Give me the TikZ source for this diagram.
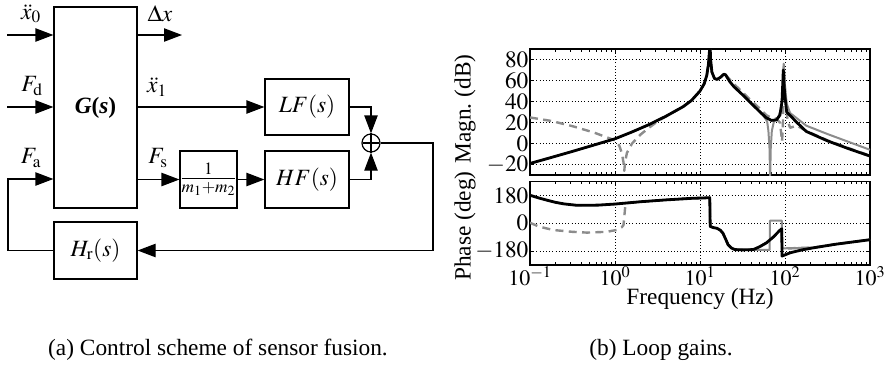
\documentclass[tikz,border=0pt]{standalone}
\usepackage{mathptmx}
\usepackage{fontspec}
\setmainfont{Liberation Serif}
\usepackage{pgfplots}
\usetikzlibrary{arrows.meta,calc,positioning}
\pgfplotsset{compat=1.18}
\definecolor{curvegray}{gray}{0.55}
\newcommand{\bigfont}{\fontsize{17.5}{20}\selectfont}
\newcommand{\tickfont}{\fontsize{16.5}{19}\selectfont}
\pgfplotsset{
  bodeax/.style={scale only axis,width=255pt,xmin=0.1,xmax=1000,
    grid=major,major grid style={dotted,black,line width=0.5pt},
    axis line style={line width=0.9pt},tick style={black,line width=0.6pt},
    major tick length=3pt,minor tick length=2pt,
    yticklabel style={font=\bigfont,inner sep=1pt},
    xticklabel style={font=\tickfont,inner sep=1pt}},
  blackline/.style={black,line width=2.1pt,line join=round},
  grayline/.style={curvegray,line width=1.5pt,line join=round},
  graydash/.style={curvegray,line width=1.8pt,dash pattern=on 6pt off 4pt,line join=round}
}

\begin{document}
\begin{tikzpicture}[x=0.75pt,y=-0.75pt,
  blk/.style={draw,line width=0.9pt,inner sep=0pt,font=\bigfont},
  lbl/.style={font=\bigfont,inner sep=0pt},
  sig/.style={line width=0.9pt,-{Triangle[length=13.5pt,width=10pt]}}]
\useasboundingbox (0,0) rectangle (885,365);
\node[blk,minimum width=62.25pt,minimum height=150.75pt] (G) at (95.5,107.5) {\textbf{\textit{G}(\textit{s})}};
\node[blk,minimum width=63pt,minimum height=42pt] (LF) at (307,107) {$LF(s)$};
\node[blk,minimum width=63pt,minimum height=42.75pt] (HF) at (307,179.5) {$HF(s)$};
\node[blk,minimum width=39.75pt,minimum height=42.75pt] (gain) at (208.5,179.5) {$\frac{1}{m_1+m_2}$};
\node[blk,minimum width=62.25pt,minimum height=42.75pt] (Hr) at (95.5,250.5) {$H_{\mathrm{r}}(s)$};
\node[draw,circle,line width=0.9pt,minimum size=13.5pt,inner sep=0pt] (sum) at (371,143) {};
\draw[line width=0.9pt,shorten <=1.5pt,shorten >=1.5pt] (sum.north) -- (sum.south) (sum.west) -- (sum.east);
\coordinate (u0) at (7,35);
\coordinate (ud) at (7,107);
\coordinate (fb) at (8,179);
\coordinate (y0) at (182,35);
\coordinate (rc) at (433,250.5);
\draw[sig] (u0) -- (G.west|-u0);
\draw[sig] (ud) -- (G.west|-ud);
\draw[sig] (G.east|-y0) -- (y0);
\draw[sig] (G.east|-LF) -- (LF.west);
\draw[sig] (G.east|-gain) -- (gain.west);
\draw[sig] (gain.east) -- (HF.west);
\draw[sig] (LF.east) -| (sum.north);
\draw[sig] (HF.east) -| (sum.south);
\draw[sig] (sum.east) -| (rc) -- (Hr.east);
\draw[sig] (Hr.west) -| (fb) -- (G.west|-fb);
\node[lbl] (lx0) at (31,14) {$\ddot{x}_0$};
\node[lbl] (lfd) at (32,86) {$F_{\mathrm{d}}$};
\node[lbl] (lfa) at (31,158) {$F_{\mathrm{a}}$};
\node[lbl] (ldx) at (160,14) {$\Delta x$};
\node[lbl] (lx1) at (157,87) {$\ddot{x}_1$};
\node[lbl] (lfs) at (158,158) {$F_{\mathrm{s}}$};

\coordinate (magSW) at (530,175);
\coordinate (phSW) at (530,265);
\begin{axis}[xmode=log,at={(magSW)},anchor=south west,bodeax,height=94.5pt,
  ymin=-30,ymax=90,ytick={-20,0,...,80},xticklabels=\empty]
\addplot[grayline] table[x expr=10^(\thisrowno{0}),y index=1,row sep=\\]{
-1 -19\\ -0.75 -13.3\\ -0.5 -7.5\\ -0.25 -1.5\\ 0 4.5\\ 0.2 11\\ 0.4 18\\ 0.6 26\\ 0.8 35\\ 0.9 41\\
1.0 50\\ 1.05 57\\ 1.08 65\\ 1.1 76\\ 1.118 95\\ 1.125 80\\ 1.14 68\\ 1.17 62\\ 1.2 61\\ 1.24 63\\
1.28 66\\ 1.3 65.5\\ 1.35 59\\ 1.4 54\\ 1.5 46.5\\ 1.6 38.5\\ 1.7 30.5\\ 1.75 26\\ 1.79 21\\ 1.805 12\\
1.818 -5\\ 1.825 -35\\ 1.832 -5\\ 1.845 12\\ 1.87 21\\ 1.92 25\\ 1.955 33\\ 1.972 45\\ 1.985 76\\ 2.0 55\\
2.02 38\\ 2.06 29\\ 2.14 24\\ 2.25 17\\ 2.5 9\\ 2.75 1.5\\ 3 -6\\
};
\addplot[graydash] table[x expr=10^(\thisrowno{0}),y index=1,row sep=\\]{
-1 24.8\\ -0.75 21.5\\ -0.5 16.5\\ -0.25 10.5\\ 0 3\\ 0.05 -2\\ 0.08 -9\\ 0.1 -18\\ 0.109 -26\\ 0.118 -18\\
0.14 -9\\ 0.2 0\\ 0.3 8.5\\ 0.4 15\\ 0.5 21\\ 0.6 26\\ 0.8 35\\ 0.9 41\\ 1.0 50\\ 1.05 57\\
1.08 65\\ 1.1 76\\ 1.118 95\\ 1.125 80\\ 1.14 68\\ 1.17 62\\ 1.2 61\\ 1.24 63\\ 1.28 66\\ 1.3 65.5\\
1.35 61\\ 1.4 56.5\\ 1.5 49\\ 1.6 41\\ 1.7 33.5\\ 1.78 27\\ 1.84 24.5\\ 1.9 23.5\\ 1.94 20\\ 1.955 10\\
1.965 2\\ 1.975 15\\ 1.985 74\\ 2.0 50\\ 2.03 22\\ 2.06 15\\ 2.14 17\\ 2.25 12\\ 2.5 3\\ 2.75 -4.5\\ 3 -11.5\\
};
\addplot[blackline] table[x expr=10^(\thisrowno{0}),y index=1,row sep=\\]{
-1 -19\\ -0.75 -13.3\\ -0.5 -7.5\\ -0.25 -1.5\\ 0 4.5\\ 0.2 11\\ 0.4 18\\ 0.6 26\\ 0.8 35\\ 0.9 41\\
1.0 50\\ 1.05 57\\ 1.08 65\\ 1.1 76\\ 1.118 95\\ 1.125 80\\ 1.14 68\\ 1.17 62\\ 1.2 61\\ 1.24 63\\
1.28 66\\ 1.3 65.5\\ 1.35 59\\ 1.4 54\\ 1.5 46.5\\ 1.6 38.5\\ 1.7 30.5\\ 1.78 24.5\\ 1.84 22\\ 1.9 22.5\\
1.94 27\\ 1.965 40\\ 1.98 70\\ 1.995 48\\ 2.02 30\\ 2.14 20\\ 2.25 11.5\\ 2.5 2.5\\ 2.75 -5\\ 3 -12\\
};
\end{axis}
\begin{axis}[xmode=log,at={(phSW)},anchor=south west,bodeax,height=62.5pt,
  ymin=-270,ymax=270,ytick={-180,0,180}]
\addplot[grayline] table[x expr=10^(\thisrowno{0}),y index=1,row sep=\\]{
-1 182\\ -0.9 165\\ -0.8 150\\ -0.7 136\\ -0.6 126\\ -0.45 117\\ -0.2 118\\ 0 125\\ 0.3 140\\ 0.6 152\\
0.9 162\\ 1.115 166\\ 1.12 -20\\ 1.16 -28\\ 1.2 -32\\ 1.24 -45\\ 1.27 -64\\ 1.3 -100\\ 1.33 -138\\ 1.37 -160\\
1.41 -170\\ 1.5 -172\\ 1.6 -172\\ 1.82 -172\\ 1.822 17\\ 1.962 17\\ 1.965 -162\\ 2.14 -160\\ 2.33 -157\\ 2.6 -135\\ 3 -106\\
};
\addplot[graydash] table[x expr=10^(\thisrowno{0}),y index=1,row sep=\\]{
-1 4\\ -0.9 -20\\ -0.73 -43\\ -0.5 -55\\ -0.33 -60\\ -0.1 -55\\ 0.02 -43\\ 0.08 -25\\ 0.1 -11\\ 0.12 106\\
0.14 131\\ 0.3 140\\ 0.6 152\\ 0.9 162\\ 1.115 166\\ 1.12 -20\\ 1.16 -28\\ 1.2 -32\\ 1.24 -45\\ 1.27 -64\\
1.3 -100\\ 1.33 -138\\ 1.37 -160\\ 1.41 -170\\ 1.5 -172\\ 1.627 -170\\ 1.7 -152\\ 1.78 -127\\ 1.86 -90\\ 1.94 -45\\
1.962 -35\\ 1.965 -165\\ 2.14 -160\\ 2.33 -158\\ 2.6 -135\\ 3 -106\\
};
\addplot[blackline] table[x expr=10^(\thisrowno{0}),y index=1,row sep=\\]{
-1 182\\ -0.9 165\\ -0.8 150\\ -0.7 136\\ -0.6 126\\ -0.45 117\\ -0.2 118\\ 0 125\\ 0.3 140\\ 0.6 152\\
0.9 162\\ 1.115 166\\ 1.12 -20\\ 1.16 -28\\ 1.2 -32\\ 1.24 -45\\ 1.27 -64\\ 1.3 -100\\ 1.33 -138\\ 1.37 -160\\
1.41 -170\\ 1.5 -172\\ 1.627 -170\\ 1.7 -152\\ 1.78 -127\\ 1.86 -90\\ 1.94 -45\\ 1.962 -35\\ 1.965 -212\\ 2.06 -191\\
2.2 -172\\ 2.33 -159\\ 2.6 -135\\ 3 -106\\
};
\end{axis}
\node[font=\bigfont,rotate=90] (maglab) at (465,109) {Magn.\ (dB)};
\node[font=\bigfont,rotate=90] (phlab) at (465,226) {Phase (deg)};
\node[font=\bigfont] (freqlab) at (700,299) {Frequency (Hz)};
\node[font=\bigfont,anchor=base] (capa) at (218,355) {(a) Control scheme of sensor fusion.};
\node[font=\bigfont,anchor=base] (capb) at (661,355) {(b) Loop gains.};
\end{tikzpicture}
\end{document}
